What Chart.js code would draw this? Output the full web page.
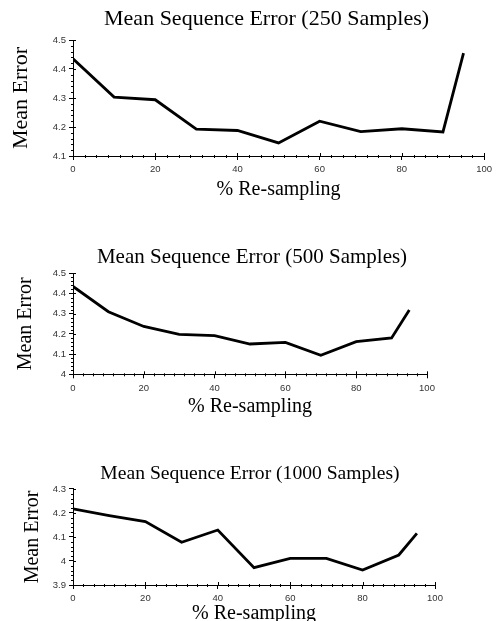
<!DOCTYPE html>
<html>
<head>
<meta charset="utf-8">
<script src="https://cdn.jsdelivr.net/npm/chart.js@4"></script>
<style>
  body { margin: 0; background: #fff; overflow: hidden; }
  canvas { display: block; position: absolute; left: 0; }
  #chart250 { top: 0; }
  #chart500 { top: 210px; }
  #chart1000 { top: 415px; }
</style>
</head>
<body>
<canvas id="chart250" width="496" height="215"></canvas>
<canvas id="chart500" width="496" height="215"></canvas>
<canvas id="chart1000" width="496" height="206"></canvas>
<script>
// % re-sampling on the x axis
const resampling = [0, 10, 20, 30, 40, 50, 60, 70, 80, 90, 95];

// mean error for each sample size
const error250 = [4.435, 4.303, 4.294, 4.193, 4.188, 4.145, 4.220, 4.184, 4.194, 4.183, 4.455];
const error500 = [4.435, 4.310, 4.237, 4.198, 4.191, 4.150, 4.158, 4.094, 4.162, 4.180, 4.318];
const error1000 = [4.217, 4.189, 4.164, 4.078, 4.129, 3.972, 4.011, 4.011, 3.962, 4.025, 4.115];

const titles = ['Mean Sequence Error (250 Samples)', 'Mean Sequence Error (500 Samples)', 'Mean Sequence Error (1000 Samples)'];
const yRanges = [[4.1, 4.5], [4.0, 4.5], [3.9, 4.3]];

const serif = '"Liberation Serif", "Times New Roman", serif';
const sans = '"Liberation Sans", Arial, sans-serif';

// center the title over the plot (plus a small per-chart shift)
const titleOverPlot = {
    id: 'titleOverPlot',
    afterLayout(chart, args, opts) {
        const tb = chart.titleBlock;
        const area = chart.chartArea;
        if (!tb) return;
        tb.left = area.left + (opts.shift || 0);
        tb.right = area.right + (opts.shift || 0);
    }
};

// small ticks between the labelled ones, and the part of each tick inside the plot
const minorTicks = {
    id: 'minorTicks',
    afterDraw(chart) {
        const ctx = chart.ctx;
        const area = chart.chartArea;
        const x = chart.scales.x;
        const y = chart.scales.y;
        ctx.save();
        ctx.strokeStyle = '#000';
        ctx.lineWidth = 1;
        ctx.beginPath();
        for (let k = 0; k <= 35; k++) {
            const px = Math.round(x.getPixelForValue(k * 20 / 7)) + 0.5;
            if (k % 7 === 0) {
                ctx.moveTo(px, area.bottom);
                ctx.lineTo(px, area.bottom - 3);
            } else {
                ctx.moveTo(px, area.bottom - 1);
                ctx.lineTo(px, area.bottom + 2);
            }
        }
        const steps = Math.round((y.max - y.min) / 0.02);
        for (let k = 0; k <= steps; k++) {
            const py = Math.round(y.getPixelForValue(y.min + k * 0.02)) + 0.5;
            if (k % 5 === 0) {
                ctx.moveTo(area.left, py);
                ctx.lineTo(area.left + 3, py);
            } else {
                ctx.moveTo(area.left - 2, py);
                ctx.lineTo(area.left + 1, py);
            }
        }
        ctx.stroke();
        ctx.restore();
    }
};

function makeChart(canvasId, titleText, values, yRange, geo) {
    const ctx = document.getElementById(canvasId).getContext('2d');
    return new Chart(ctx, {
        type: 'line',
        data: {
            datasets: [{
                data: resampling.map((v, i) => ({ x: v, y: values[i] })),
                borderColor: '#000',
                borderWidth: 2.8,
                borderJoinStyle: 'miter',
                pointRadius: 0,
                tension: 0,
                fill: false
            }]
        },
        options: {
            responsive: false,
            animation: false,
            layout: { padding: { left: 0, right: geo.right, top: 0, bottom: 0 } },
            plugins: {
                legend: { display: false },
                tooltip: { enabled: false },
                titleOverPlot: { shift: geo.titleShift },
                title: {
                    display: true,
                    text: titleText,
                    color: '#000',
                    font: { family: serif, size: geo.titleSize, weight: 'normal', lineHeight: 1.2 },
                    padding: { top: geo.titleTop, bottom: geo.titleBottom }
                }
            },
            scales: {
                x: {
                    type: 'linear',
                    min: 0,
                    max: 100,
                    ticks: { stepSize: 20, color: '#333', padding: 4, maxRotation: 0, font: { family: sans, size: 9.5 } },
                    grid: { drawOnChartArea: false, tickLength: 4, color: '#000' },
                    border: { color: '#000' },
                    title: {
                        display: true,
                        text: '% Re-sampling',
                        color: '#000',
                        font: { family: serif, size: 20, lineHeight: geo.xTitleLh },
                        padding: { top: 0, bottom: geo.xTitlePad }
                    },
                    afterFit: function(scale) { scale.height = geo.xHeight; }
                },
                y: {
                    type: 'linear',
                    min: yRange[0],
                    max: yRange[1],
                    ticks: {
                        stepSize: 0.1,
                        color: '#333',
                        padding: 3,
                        font: { family: sans, size: 9.5 },
                        callback: v => String(Math.round(v * 10) / 10)
                    },
                    grid: { drawOnChartArea: false, tickLength: 4, color: '#000' },
                    border: { color: '#000' },
                    title: {
                        display: true,
                        text: 'Mean Error',
                        color: '#000',
                        font: { family: serif, size: geo.yTitleSize, lineHeight: 1.2 },
                        padding: { top: geo.yTitlePad, bottom: 0 }
                    },
                    afterFit: function(scale) { scale.width = 73; }
                }
            }
        },
        plugins: [titleOverPlot, minorTicks]
    });
}

makeChart('chart250', titles[0], error250, yRanges[0],
    { right: 9, titleShift: -12, titleSize: 22, titleTop: 6.2, titleBottom: 7.4, xHeight: 59, xTitleLh: 1, xTitlePad: 15, yTitleSize: 22, yTitlePad: 7.8 });
makeChart('chart500', titles[1], error500, yRanges[1],
    { right: 69, titleShift: 2, titleSize: 21, titleTop: 34.6, titleBottom: 3.5, xHeight: 50.7, xTitleLh: 1, xTitlePad: 8, yTitleSize: 20, yTitlePad: 14 });
makeChart('chart1000', titles[2], error1000, yRanges[2],
    { right: 61, titleShift: -4, titleSize: 19.6, titleTop: 47, titleBottom: 3.4, xHeight: 36, xTitleLh: 0.7, xTitlePad: 0, yTitleSize: 20, yTitlePad: 21 });
</script>
</body>
</html>
